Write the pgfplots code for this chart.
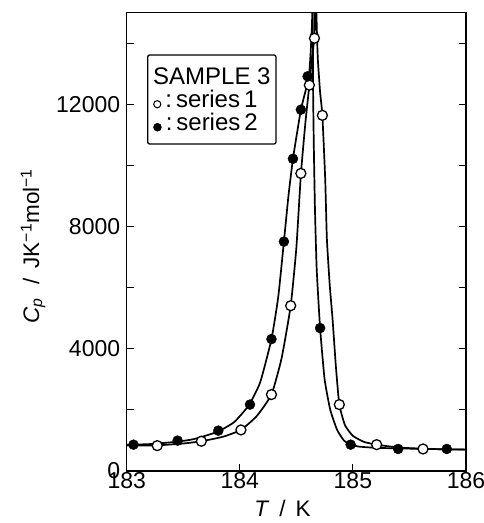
\documentclass[border=0pt]{standalone}
\usepackage{pgfplots}
\pgfplotsset{compat=1.18}
\usepackage{fontspec}
\setmainfont{Liberation Sans}
\begin{document}
\begin{tikzpicture}[x=1pt,y=1pt]
\useasboundingbox (-126.7,-52) rectangle (357.3,471);
\begin{axis}[
  scale only axis, width=339.3pt, height=458.3pt,
  at={(0,0)}, anchor=south west,
  xmin=183, xmax=186, ymin=0, ymax=15000,
  xtick={183,184,185,186},
  ytick={0,4000,8000,12000},
  minor ytick={2000,6000,10000,14000},
  scaled y ticks=false, scaled x ticks=false,
  xtick pos=bottom, ytick pos=both,
  tick align=inside,
  major tick length=7pt, minor tick length=7pt,
  every tick/.style={line width=1.2pt, black},
  axis line style={line width=1.6pt},
  /pgf/number format/assume math mode=true,
  /pgf/number format/set thousands separator={},
  xticklabel style={/pgf/number format/precision=0},
  tick label style={font=\fontsize{23}{26}\selectfont},
  yticklabel style={xshift=-3pt},
  xticklabel style={yshift=2pt},
  label style={font=\fontsize{22.5}{26}\selectfont},
  xlabel={\textit{T}\, /\, K},
  xlabel style={at={(axis description cs:0.459,0)}, anchor=north, yshift=-26pt},
  ylabel={\textit{C}\textsubscript{\textit{p}}\,\, /\, JK\textsuperscript{−1}mol\textsuperscript{−1}},
  ylabel style={at={(axis description cs:-0.276,0.49)}, anchor=center},
  clip=true,
]
% fitted curve, series 1 (open circles)
\addplot[line width=1.7pt, smooth, tension=0.3] coordinates {
(183.0,830) (183.27,840) (183.5,900) (183.66,974) (183.85,1120) (184.01,1344)
(184.15,1800) (184.28,2502) (184.37,3700) (184.45,5410) (184.5,7300) (184.54,9700)
(184.58,11400) (184.615,12630) (184.64,13600) (184.66,14200) (184.672,15900)
(184.68,14600) (184.69,13475) (184.71,12400) (184.73,11640) (184.755,9570)
(184.77,7600) (184.795,6100) (184.82,4980) (184.85,3400) (184.88,2174)
(184.93,1500) (185.0,1150) (185.1,950) (185.21,862) (185.4,770) (185.62,730)
(185.84,705) (186.0,700)
};
% fitted curve, series 2 (filled circles)
\addplot[line width=1.7pt, smooth, tension=0.3] coordinates {
(183.0,860) (183.2,880) (183.45,960) (183.6,1050) (183.8,1280) (183.95,1600)
(184.08,2153) (184.18,2900) (184.28,4317) (184.34,5700) (184.39,7508) (184.43,9000)
(184.47,10219) (184.51,11150) (184.54,11825) (184.575,12350) (184.61,12874)
(184.625,13600) (184.638,14600) (184.645,15500)
(184.648,12500) (184.655,10500) (184.665,8500) (184.68,6600) (184.71,4678)
(184.75,3000) (184.8,2000) (184.86,1350) (184.92,1000) (184.97,874) (185.05,800)
(185.2,760) (185.39,740) (185.6,725) (185.84,710) (186.0,705)
};
% series 1 data
\addplot[only marks, mark=*, mark size=5pt, mark options={fill=white, draw=black, line width=1.3pt}] coordinates {
(183.27,830) (183.66,974) (184.01,1344) (184.28,2502) (184.45,5410) (184.54,9740)
(184.615,12630) (184.66,14164) (184.73,11640) (184.88,2174) (185.21,862) (185.62,721)
};
% series 2 data
\addplot[only marks, mark=*, mark size=5pt, mark options={fill=black, draw=black}] coordinates {
(183.06,862) (183.45,994) (183.81,1321) (184.09,2174) (184.28,4317) (184.39,7508)
(184.47,10219) (184.54,11825) (184.60,12918) (184.71,4678) (184.98,862) (185.40,721) (185.83,721)
};
\end{axis}
\node[draw, line width=1.3pt, rounded corners=2pt, minimum width=128.3pt, minimum height=89pt, inner sep=0pt,
  font=\fontsize{24}{23}\selectfont, align=left] at (85.15,371.5) {%
SAMPLE\;3\\[0pt]
\tikz[baseline=-3pt]\draw[line width=1pt, fill=white] (0,0) circle (3.6pt);\,:\,series\,1\\
\tikz[baseline=-3pt]\fill (0,0) circle (4.3pt);\,:\,series\,2};
\end{tikzpicture}
\end{document}
